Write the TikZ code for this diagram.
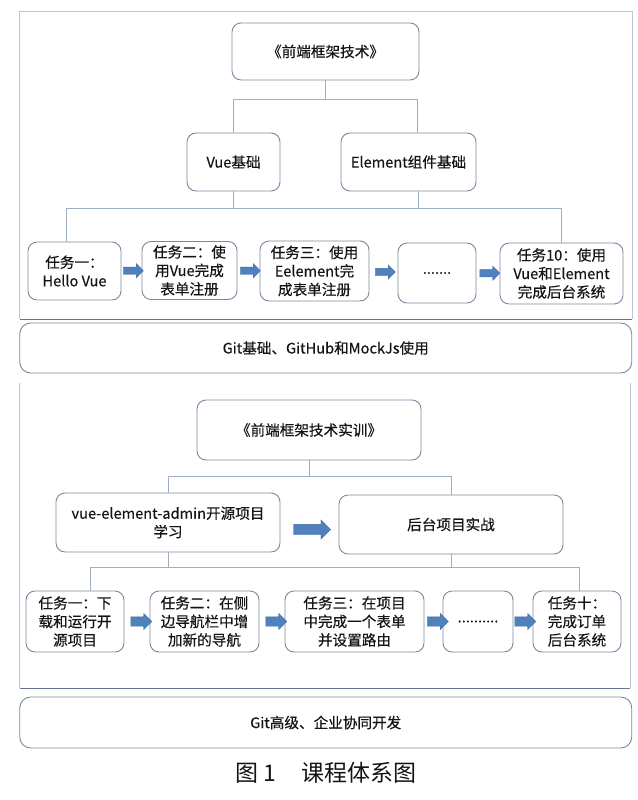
\documentclass[tikz,border=0pt]{standalone}
\usepackage{fontspec}
\setmainfont{Noto Sans CJK SC}[FakeBold=0.4]
\usetikzlibrary{positioning,calc,shapes.arrows}

\definecolor{boxline}{RGB}{124,136,158}
\definecolor{treeline}{RGB}{160,174,196}
\definecolor{framelight}{RGB}{192,196,204}
\definecolor{framedark}{RGB}{104,116,146}
\definecolor{arrowblue}{RGB}{79,129,189}
\definecolor{txt}{RGB}{20,20,20}

\begin{document}
\begin{tikzpicture}[
        x=1pt, y=-1pt,
        box/.style={draw=boxline, line width=0.9pt, rounded corners=9pt,
            text=txt, align=center, inner sep=2pt,
            font=\fontsize{14.6}{18.5}\selectfont},
        wide/.style={box, rounded corners=11pt, minimum width=612pt,
            minimum height=50pt},
        tree/.style={treeline, line width=0.8pt},
        blockarrow/.style={single arrow, fill=arrowblue,
            draw=arrowblue!85!black, line width=0.3pt, inner xsep=0pt,
            single arrow head indent=0pt},
        small/.style={blockarrow, minimum height=20pt, inner ysep=3.5pt,
            single arrow head extend=3.5pt},
        smallb/.style={blockarrow, minimum height=21pt, inner ysep=4.5pt,
            single arrow head extend=3.5pt},
        big/.style={blockarrow, minimum height=37pt, inner ysep=5pt,
            single arrow head extend=4.5pt},
    ]
    \useasboundingbox (0,0) rectangle (637,800);
    % upper frame
    \draw[framelight, line width=0.8pt] (19.5,319) |- (632,11) -- (632,319);
    \draw[framedark, line width=0.9pt] (19.5,319) -- (632,319);
    \node[box, minimum width=187pt, minimum height=57pt] at (325.5,51.5) (title) {《前端框架技术》};
    \node[box, minimum width=93pt, minimum height=58pt] at (233.5,162) (vue) {Vue基础};
    \node[box, minimum width=135pt, minimum height=58pt] at (408.5,162) (elem) {Element组件基础};
    \node[box, minimum width=93pt, minimum height=58pt] at (74.5,271) (t1) {任务一：\\Hello Vue};
    \node[box, minimum width=95pt, minimum height=58pt] at (189.5,270.5) (t2) {任务二：使\\用Vue完成\\表单注册};
    \node[box, minimum width=109pt, minimum height=60pt] at (314.5,271) (t3) {任务三：使用\\Eelement完\\成表单注册};
    \node[box, minimum width=78pt, minimum height=60pt] at (437,273) (t4) {.......};
    \node[box, minimum width=123pt, minimum height=61pt] at (561.5,273.5) (t5) {任务10：使用\\Vue和Element\\完成后台系统};
    % tree
    \draw[tree] (title.south) -- ++(0,19) coordinate (j1);
    \draw[tree] (vue.north) |- (j1) -| ([xshift=8.5]elem.north);
    \draw[tree] (vue.south) -- ++(0,17) coordinate (j2);
    \draw[tree] ([xshift=10]elem.south) |- (j2);
    \draw[tree] ([xshift=-8.5]t1.north) |- (j2) -| (t5.north);
    \node[small] at ($(t1.east)!0.5!(t2.west)$) (a1) {};
    \node[small] at ($(t2.east)!0.5!(t3.west)$) (a2) {};
    \node[small] at ($(t3.east)!0.5!(t4.west)$) (a3) {};
    \node[small] at ($(t4.east)!0.5!(t5.west)$) (a4) {};
    \node[wide] at (325.75,348) (git1) {Git基础、GitHub和MockJs使用};

    % lower frame
    \draw[framelight, line width=0.8pt] (19.5,383) -- (19.5,688);
    \draw[framelight, line width=0.8pt] (630,383) -- (630,688);
    \draw[framedark, line width=0.9pt] (19.5,688) -- (630,688);
    \node[box, minimum width=224pt, minimum height=60pt] at (309,430) (title2) {《前端框架技术实训》};
    \node[box, minimum width=224pt, minimum height=59pt] at (168,522.5) (vea) {vue-element-admin开源项目\\学习};
    \node[box, minimum width=224pt, minimum height=59pt] at (451,524.5) (prj) {后台项目实战};
    \node[big] at ($(vea.east)!0.5!(prj.west)+(0,6)$) (a5) {};
    \node[box, minimum width=98pt, minimum height=61pt] at (75,621.5) (b1) {任务一：下\\载和运行开\\源项目};
    \node[box, minimum width=109pt, minimum height=61pt] at (204.5,621.5) (b2) {任务二：在侧\\边导航栏中增\\加新的导航};
    \node[box, minimum width=139pt, minimum height=61pt] at (354.5,621.5) (b3) {任务三：在项目\\中完成一个表单\\并设置路由};
    \node[box, minimum width=70pt, minimum height=61pt] at (478,621.5) (b4) {..........};
    \node[box, minimum width=88pt, minimum height=61pt] at (577,621.5) (b5) {任务十：\\完成订单\\后台系统};
    % tree
    \draw[tree] (title2.south) -- ++(0,16) coordinate (j3);
    \draw[tree] (vea.north) |- (j3) -| (prj.north);
    \draw[tree] (vea.south) -- ++(0,15) coordinate (j4);
    \draw[tree] (prj.south) |- (j4);
    \draw[tree] ([xshift=15]b1.north) |- (j4) -| ([xshift=2]b5.north);
    \node[smallb] at ($(b1.east)!0.5!(b2.west)+(2,0)$) (c1) {};
    \node[smallb] at ($(b2.east)!0.5!(b3.west)+(2,0)$) (c2) {};
    \node[smallb] at ($(b3.east)!0.5!(b4.west)+(2,0)$) (c3) {};
    \node[smallb] at ($(b4.east)!0.5!(b5.west)$) (c4) {};
    \node[wide, minimum height=51pt] at (325.75,722.5) (git2) {Git高级、企业协同开发};

    % caption
    \node[text=txt, font=\fontsize{23}{26}\selectfont\addfontfeatures{FakeBold=0}] at (326,773) (cap) {图 1\hspace{1.1em}课程体系图};
\end{tikzpicture}
\end{document}
